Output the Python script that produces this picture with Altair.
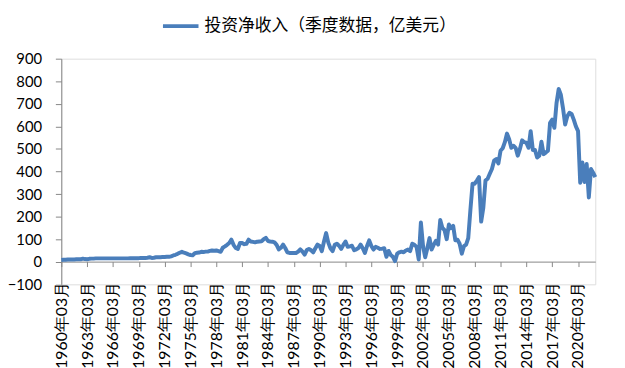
import altair as alt
import pandas as pd

# Quarterly values (亿美元), 1960Q1 .. 2022Q1
values_1960s = [8, 9, 9, 10, 10, 10, 10, 11, 11, 11, 14, 12, 11, 13, 14, 14,
                15, 15, 15, 15, 15, 15, 15, 15, 15, 15, 15, 15, 15, 15, 15, 15,
                16, 16, 16, 16, 16, 17, 17, 17]
values_1970s = [18, 20, 17, 18, 20, 20, 20, 21, 21, 22, 22, 24, 28, 31, 35, 40,
                44, 40, 37, 33, 30, 29, 38, 40, 41, 44, 43, 45, 45, 48, 50, 49,
                50, 47, 44, 62, 68, 75, 83, 98]
values_1980s = [75, 61, 57, 83, 83, 78, 80, 98, 90, 88, 86, 89, 90, 91, 100, 106,
                92, 90, 89, 86, 75, 55, 62, 76, 61, 42, 39, 39, 39, 39, 45, 55,
                45, 32, 52, 57, 51, 42, 60, 76]
values_1990s = [70, 47, 90, 127, 85, 60, 47, 75, 80, 71, 57, 75, 90, 66, 68, 71,
                51, 55, 61, 76, 60, 39, 70, 95, 70, 54, 66, 62, 57, 58, 60, 22,
                48, 30, 22, 3, 36, 42, 45, 42]
values_2000s = [50, 54, 47, 80, 75, 66, 10, 174, 70, 20, 60, 105, 54, 76, 93, 76,
                185, 150, 140, 100, 165, 149, 159, 95, 98, 80, 36, 69, 76, 105, 230, 346,
                346, 360, 375, 178, 240, 360, 368, 390]
values_2010s = [411, 448, 455, 436, 492, 503, 530, 568, 543, 505, 514, 505, 470, 500, 538, 530,
                528, 505, 579, 495, 495, 462, 470, 532, 477, 484, 492, 616, 630, 594, 703, 766,
                740, 681, 608, 645, 660, 655, 630, 600]
values_2020s = [579, 350, 440, 353, 433, 285, 411, 395, 375]

tick_labels = ["1960年03月", "1963年03月", "1966年03月", "1969年03月", "1972年03月",
               "1975年03月", "1978年03月", "1981年03月", "1984年03月", "1987年03月",
               "1990年03月", "1993年03月", "1996年03月", "1999年03月", "2002年03月",
               "2005年03月", "2008年03月", "2011年03月", "2014年03月", "2017年03月",
               "2020年03月"]
y_ticks = [-100, 0, 100, 200, 300, 400, 500, 600, 700, 800, 900]
series_name = "投资净收入（季度数据，亿美元）"
quarter_months = ["03", "06", "09", "12"]

values = (values_1960s + values_1970s + values_1980s + values_1990s
          + values_2000s + values_2010s + values_2020s)
labels = []
for i in range(len(values)):
    year = 1960 + i // 4
    labels.append(f"{year}年{quarter_months[i % 4]}月")

df = pd.DataFrame({"period": labels, "value": values, "series": series_name})

axis_gray = "#868686"

chart = alt.Chart(df).mark_line(strokeWidth=4, strokeJoin="round").encode(
    x=alt.X("period:O", sort=None,
            scale=alt.Scale(type="point", padding=0),
            axis=alt.Axis(values=tick_labels, title=None, labelAngle=-90,
                          offset=-23, domainColor=axis_gray, tickColor=axis_gray,
                          tickSize=5, labelPadding=15, labelFont="Lato",
                          labelFontSize=16, labelColor="black", grid=False,
                          labelLimit=0)),
    y=alt.Y("value:Q", scale=alt.Scale(domain=[-100, 900], nice=False, zero=False),
            axis=alt.Axis(values=y_ticks, title=None, grid=False,
                          domainColor=axis_gray, tickColor=axis_gray, tickSize=6,
                          labelPadding=14, labelFont="Lato", labelFontSize=15,
                          labelColor="black")),
    color=alt.Color("series:N", scale=alt.Scale(range=["#4A7EBB"]),
                    legend=alt.Legend(orient="none", legendX=101, legendY=-53,
                                      title=None, symbolType="stroke",
                                      symbolSize=1296, symbolStrokeWidth=4,
                                      labelFontSize=17, labelOffset=4,
                                      labelLimit=0,
                                      labelFont="Noto Sans CJK SC",
                                      labelColor="black", padding=0)),
).properties(
    width=541, height=228.6,
    autosize=alt.AutoSizeParams(type="none"),
    padding={"left": 54, "top": 49, "right": 22, "bottom": 82},
).configure_view(stroke=None).configure(background="white")

chart.save("out.html", embed_options={"renderer": "svg", "actions": False})
